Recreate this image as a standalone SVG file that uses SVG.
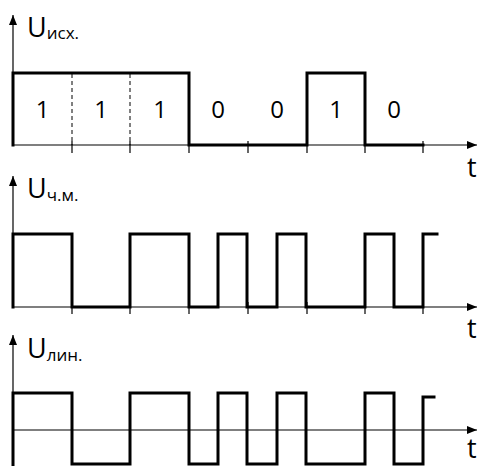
<svg xmlns="http://www.w3.org/2000/svg" width="477" height="466" viewBox="0 0 477 466">
<style>
.ax{stroke:#000;stroke-width:1.2;fill:none}
.sig{stroke:#000;stroke-width:3;fill:none;stroke-linejoin:miter;stroke-linecap:square}
.tick{stroke:#000;stroke-width:1.2}
.dash{stroke:#000;stroke-width:1;stroke-dasharray:4,3}
.big{font-family:"Open Sans","Noto Sans",sans-serif;font-size:27px;fill:#000}
.sub{font-family:"Open Sans","Noto Sans",sans-serif;font-size:17px;fill:#000}
.dig{font-family:"Open Sans","Noto Sans",sans-serif;font-size:24px;fill:#000;text-anchor:middle}
</style>
<defs>
<marker id="ar" viewBox="0 0 10 8" refX="10" refY="4" markerWidth="10" markerHeight="8" markerUnits="userSpaceOnUse" orient="auto">
<path d="M0,0 L10,4 L0,8 Z" fill="#000"/>
</marker>
</defs>
<g id="connectors">
<line class="ax" x1="13" y1="145" x2="13" y2="15" marker-end="url(#ar)"/>
<line class="ax" x1="13" y1="145" x2="477" y2="145" marker-end="url(#ar)"/>
<line class="ax" x1="13" y1="307" x2="13" y2="176" marker-end="url(#ar)"/>
<line class="ax" x1="13" y1="307" x2="477" y2="307" marker-end="url(#ar)"/>
<line class="ax" x1="13" y1="466" x2="13" y2="335" marker-end="url(#ar)"/>
<line class="ax" x1="13" y1="430" x2="477" y2="430" marker-end="url(#ar)"/>
</g>
<g id="top-panel">
<line class="dash" x1="72" y1="74" x2="72" y2="145"/>
<line class="dash" x1="130" y1="74" x2="130" y2="145"/>
<g>
<line class="tick" x1="72" y1="141" x2="72" y2="153"/>
<line class="tick" x1="130" y1="141" x2="130" y2="153"/>
<line class="tick" x1="189" y1="141" x2="189" y2="153"/>
<line class="tick" x1="248" y1="141" x2="248" y2="153"/>
<line class="tick" x1="307" y1="141" x2="307" y2="153"/>
<line class="tick" x1="365" y1="141" x2="365" y2="153"/>
<line class="tick" x1="423" y1="141" x2="423" y2="153"/>
</g>
<path class="sig" d="M13,145 V73 H189 V145 H307 V73 H365 V145 H423"/>
<text class="dig" x="42.5" y="118">1</text>
<text class="dig" x="101" y="118">1</text>
<text class="dig" x="160" y="118">1</text>
<text class="dig" x="218" y="118">0</text>
<text class="dig" x="277" y="118">0</text>
<text class="dig" x="336" y="118">1</text>
<text class="dig" x="394" y="118">0</text>
<text class="big" x="27" y="37">U<tspan class="sub" dy="2">исх.</tspan></text>
<text class="big" x="467" y="177">t</text>
</g>
<g id="middle-panel">
<g>
<line class="tick" x1="72" y1="302" x2="72" y2="314"/>
<line class="tick" x1="130" y1="302" x2="130" y2="314"/>
<line class="tick" x1="189" y1="302" x2="189" y2="314"/>
<line class="tick" x1="248" y1="302" x2="248" y2="314"/>
<line class="tick" x1="307" y1="302" x2="307" y2="314"/>
<line class="tick" x1="365" y1="302" x2="365" y2="314"/>
<line class="tick" x1="423" y1="302" x2="423" y2="314"/>
</g>
<path class="sig" d="M13,307 V234 H72 V307 H130 V234 H189 V307 H218 V234 H247 V307 H277 V234 H306 V307 H365 V234 H394 V307 H423 V234 H437"/>
<text class="big" x="27" y="198">U<tspan class="sub" dy="3">ч.м.</tspan></text>
<text class="big" x="467" y="338">t</text>
</g>
<g id="bottom-panel">
<path class="sig" d="M13,466 V393 H72 V464 H130 V393 H189 V464 H218 V393 H247 V464 H277 V393 H306 V464 H365 V393 H394 V464 H423 V397 H434"/>
<text class="big" x="27" y="358">U<tspan class="sub" dy="3">лин.</tspan></text>
<text class="big" x="467" y="458">t</text>
</g>
</svg>
